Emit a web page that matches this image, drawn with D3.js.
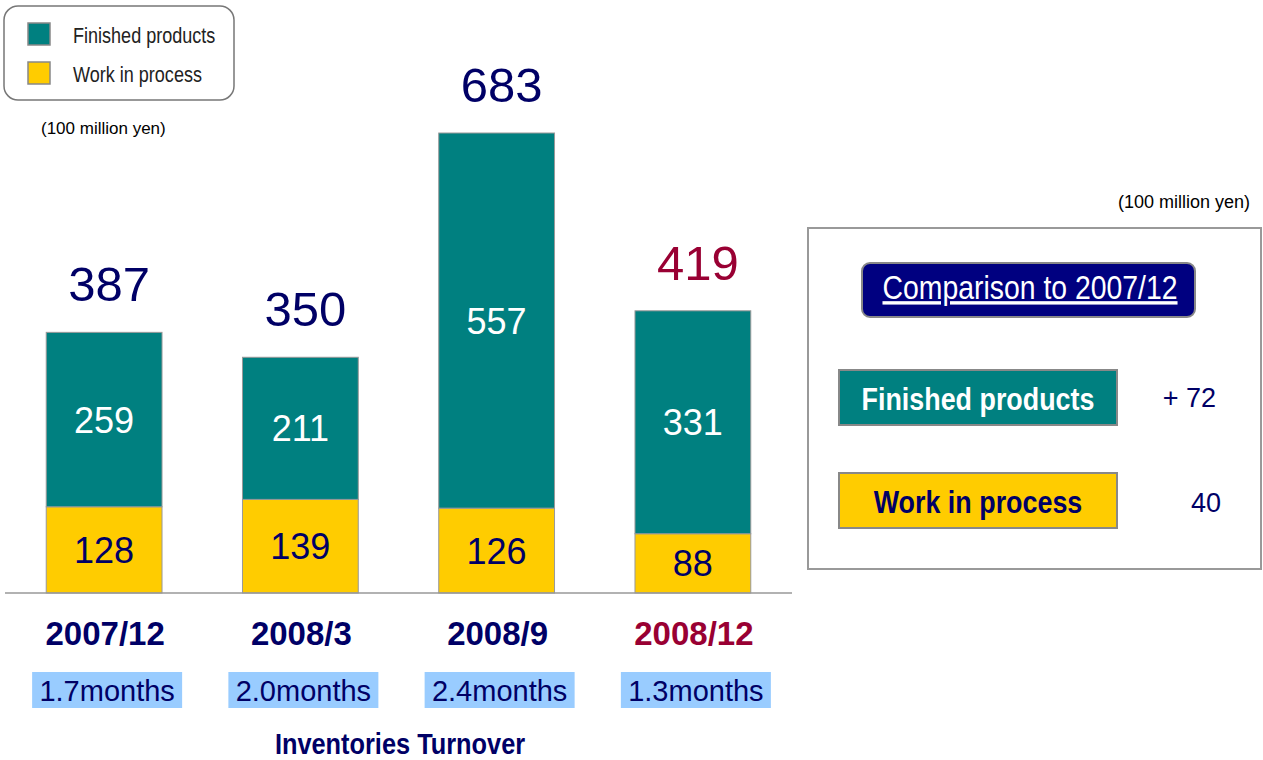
<!DOCTYPE html>
<html>
<head>
<meta charset="utf-8">
<script src="https://cdn.jsdelivr.net/npm/d3@7"></script>
<style>
  body { margin: 0; background: #fff; }
  svg { display: block; }
  text { font-family: "Liberation Sans", Arial, sans-serif; }
</style>
</head>
<body>
<div id="chart"></div>
<script>
// data (100 million yen)
var categories = ['2007/12', '2008/3', '2008/9', '2008/12'];
var finished = [259, 211, 557, 331];
var wip = [128, 139, 126, 88];
var totals = [387, 350, 683, 419];
var turnover = ['1.7months', '2.0months', '2.4months', '1.3months'];
var seriesNames = ['Finished products', 'Work in process'];
var comparison = ['+ 72', '40'];

var colors = {
  finished: '#008080',
  wip: '#FFCC00',
  navy: '#000066',
  red: '#990033',
  month: '#99CCFF',
  panel: '#000080'
};

// no Arial Narrow here, so squeeze Liberation Sans horizontally
var NARROW = 0.82;

var W = 1263, H = 760;
var svg = d3.select('#chart').append('svg').attr('width', W).attr('height', H);

function narrowText(sel, x, y, size, txt, opts) {
  opts = opts || {};
  var gg = sel.append('g').attr('transform', 'translate(' + x + ',' + y + ')');
  var t = gg.append('text')
    .attr('transform', 'scale(' + (opts.sx || NARROW) + ',1)')
    .attr('text-anchor', opts.anchor || 'middle')
    .attr('font-size', size)
    .attr('font-weight', opts.weight || 'normal')
    .attr('fill', opts.fill || '#000')
    .text(txt);
  if (opts.underline) t.attr('text-decoration', 'underline');
  return gg;
}

// scales
var x = d3.scaleBand().domain(categories).range([6, 791]).paddingInner(0.41).paddingOuter(0.205);
var y = d3.scaleLinear().domain([0, 683]).range([593, 133]);
var cx = function(c) { return x(c) + x.bandwidth() / 2; };

var rows = categories.map(function(c, i) {
  return {cat: c, finished: finished[i], wip: wip[i], total: totals[i]};
});
var layers = d3.stack().keys(['wip', 'finished'])(rows);

// bars
var g = svg.append('g');
g.selectAll('g.layer')
  .data(layers)
  .enter()
  .append('g')
  .attr('class', 'layer')
  .attr('fill', function(d) { return colors[d.key]; })
  .selectAll('rect')
  .data(function(d) { return d; })
  .enter()
  .append('rect')
  .attr('x', function(d) { return x(d.data.cat); })
  .attr('y', function(d) { return y(d[1]); })
  .attr('width', x.bandwidth())
  .attr('height', function(d) { return y(d[0]) - y(d[1]); })
  .attr('stroke', '#999')
  .attr('stroke-width', 1);

// segment labels
layers.forEach(function(layer) {
  g.selectAll(null)
    .data(layer)
    .enter()
    .append('text')
    .attr('x', function(d) { return cx(d.data.cat); })
    .attr('y', function(d) { return (y(d[0]) + y(d[1])) / 2; })
    .attr('dy', '0.36em')
    .attr('text-anchor', 'middle')
    .attr('font-size', 36)
    .attr('fill', layer.key === 'finished' ? '#fff' : colors.navy)
    .text(function(d) { return d.data[layer.key]; });
});

// totals
g.selectAll('text.total')
  .data(rows)
  .enter()
  .append('text')
  .attr('class', 'total')
  .attr('x', function(d) { return cx(d.cat) + 5; })
  .attr('y', function(d) { return y(d.total) - 31; })
  .attr('text-anchor', 'middle')
  .attr('font-size', 49)
  .attr('fill', function(d, i) { return i === categories.length - 1 ? colors.red : colors.navy; })
  .text(function(d) { return d.total; });

// baseline
svg.append('line')
  .attr('x1', 5).attr('x2', 792)
  .attr('y1', y(0)).attr('y2', y(0))
  .attr('stroke', '#999').attr('stroke-width', 1.5);

// category labels
svg.selectAll('text.cat')
  .data(categories)
  .enter()
  .append('text')
  .attr('class', 'cat')
  .attr('x', function(d) { return cx(d) + 1; })
  .attr('y', 645)
  .attr('text-anchor', 'middle')
  .attr('font-size', 33)
  .attr('font-weight', 'bold')
  .attr('fill', function(d, i) { return i === categories.length - 1 ? colors.red : colors.navy; })
  .text(function(d) { return d; });

// turnover boxes
var tb = svg.selectAll('g.turn')
  .data(turnover)
  .enter()
  .append('g')
  .attr('class', 'turn')
  .attr('transform', function(d, i) { return 'translate(' + (cx(categories[i]) + 3) + ',0)'; });
tb.append('rect')
  .attr('x', -75).attr('y', 672)
  .attr('width', 150).attr('height', 36)
  .attr('fill', colors.month);
tb.append('text')
  .attr('y', 701)
  .attr('text-anchor', 'middle')
  .attr('font-size', 29)
  .attr('fill', colors.navy)
  .text(function(d) { return d; });

narrowText(svg, 400, 754, 30, 'Inventories Turnover', {weight: 'bold', fill: colors.navy, sx: 0.845});

// legend
var legend = svg.append('g');
legend.append('rect')
  .attr('x', 4).attr('y', 6).attr('width', 230).attr('height', 94)
  .attr('rx', 14)
  .attr('fill', '#fff').attr('stroke', '#777').attr('stroke-width', 1.5);
legend.selectAll('g.item')
  .data(seriesNames)
  .enter()
  .append('g')
  .attr('transform', function(d, i) { return 'translate(28,' + (23 + i * 39) + ')'; })
  .each(function(d, i) {
    var it = d3.select(this);
    it.append('rect')
      .attr('width', 22).attr('height', 22)
      .attr('fill', i === 0 ? colors.finished : colors.wip)
      .attr('stroke', '#888').attr('stroke-width', 1.5);
    narrowText(it, 45, 20, 22, d, {anchor: 'start', fill: '#222'});
  });

svg.append('text')
  .attr('x', 41).attr('y', 134)
  .attr('font-size', 17)
  .attr('fill', '#000')
  .text('(100 million yen)');

// comparison panel
svg.append('text')
  .attr('x', 1250).attr('y', 208)
  .attr('text-anchor', 'end')
  .attr('font-size', 18)
  .attr('fill', '#000')
  .text('(100 million yen)');

var panel = svg.append('g');
panel.append('rect')
  .attr('x', 808).attr('y', 228).attr('width', 453).attr('height', 341)
  .attr('fill', '#fff').attr('stroke', '#999').attr('stroke-width', 2);

panel.append('rect')
  .attr('x', 862).attr('y', 263).attr('width', 333).attr('height', 54)
  .attr('rx', 8)
  .attr('fill', colors.panel).attr('stroke', '#888').attr('stroke-width', 2);
narrowText(panel, 1030, 299, 34, 'Comparison to ' + categories[0], {fill: '#fff', underline: true, sx: 0.835});

var boxes = [
  {name: seriesNames[0], fill: colors.finished, text: '#fff', y: 370, value: comparison[0]},
  {name: seriesNames[1], fill: colors.wip, text: colors.navy, y: 473, value: comparison[1]}
];
panel.selectAll('g.cmp')
  .data(boxes)
  .enter()
  .append('g')
  .attr('class', 'cmp')
  .each(function(d, i) {
    var it = d3.select(this);
    it.append('rect')
      .attr('x', 839).attr('y', d.y)
      .attr('width', 278).attr('height', 55)
      .attr('fill', d.fill)
      .attr('stroke', '#888').attr('stroke-width', 2);
    narrowText(it, 978, d.y + 40, 32, d.name, {weight: 'bold', fill: d.text, sx: 0.84});
    it.append('text')
      .attr('x', i === 0 ? 1216 : 1221).attr('y', d.y + (i === 0 ? 37 : 39))
      .attr('text-anchor', 'end')
      .attr('font-size', 27)
      .attr('fill', colors.navy)
      .text(d.value);
  });
</script>
</body>
</html>
